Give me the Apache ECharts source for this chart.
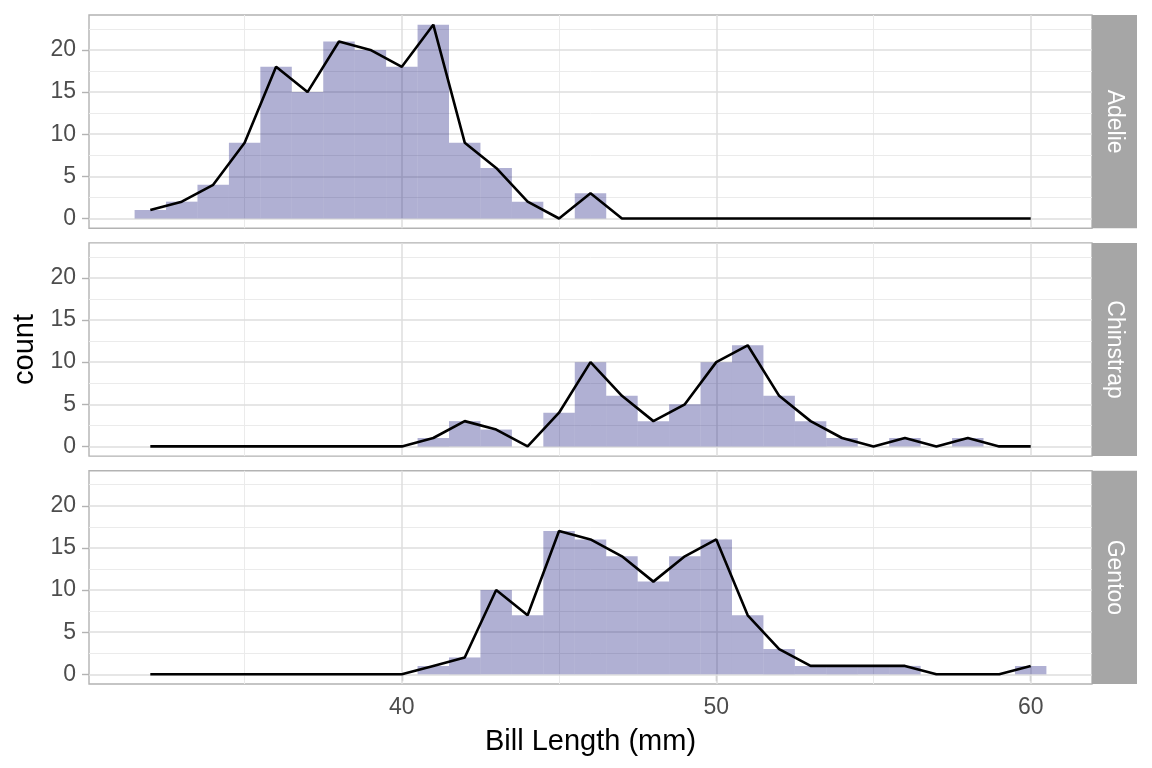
<!DOCTYPE html>
<html>
<head>
<meta charset="utf-8">
<script src="https://cdn.jsdelivr.net/npm/echarts@6/dist/echarts.min.js"></script>
<style>
  html, body { margin: 0; padding: 0; background: #fff; }
  #chart { width: 1152px; height: 768px; }
</style>
</head>
<body>
<div id="chart"></div>
<script>
// bin centres (bin width 1)
const bins = [32, 33, 34, 35, 36, 37, 38, 39, 40, 41, 42, 43, 44, 45, 46,
  47, 48, 49, 50, 51, 52, 53, 54, 55, 56, 57, 58, 59, 60]
const species = ['Adelie', 'Chinstrap', 'Gentoo']
const adelie = [1, 2, 4, 9, 18, 15, 21, 20, 18, 23, 9, 6, 2, 0, 3,
  0, 0, 0, 0, 0, 0, 0, 0, 0, 0, 0, 0, 0, 0]
const chinstrap = [0, 0, 0, 0, 0, 0, 0, 0, 0, 1, 3, 2, 0, 4, 10,
  6, 3, 5, 10, 12, 6, 3, 1, 0, 1, 0, 1, 0, 0]
const gentoo = [0, 0, 0, 0, 0, 0, 0, 0, 0, 1, 2, 10, 7, 17, 16,
  14, 11, 14, 16, 7, 3, 1, 1, 1, 1, 0, 0, 0, 1]
const counts = [adelie, chinstrap, gentoo]

const xLabels = [40, 50, 60]
const xMinor = [35, 45, 55]
const yLabels = [0, 5, 10, 15, 20]
const yMinor = [2.5, 7.5, 12.5, 17.5, 22.5]

const font = 'Liberation Sans, Arial, Helvetica, sans-serif'
const left = 89
const right = 60
const top0 = 15
const panelH = 213.2
const gap = 14.7

const chart = echarts.init(document.getElementById('chart'))

const grids = []
const xAxes = []
const yAxes = []
const series = []
const graphics = []

species.forEach((name, i) => {
  const top = top0 + i * (panelH + gap)
  const isLast = i === species.length - 1
  grids.push({
    left, right, top, height: panelH,
    show: true,
    backgroundColor: '#fff',
    borderColor: '#b3b3b3',
    borderWidth: 1.4
  })
  xAxes.push({
    type: 'value',
    gridIndex: i,
    min: 30.05,
    max: 61.95,
    axisLine: { show: false },
    splitLine: { show: false },
    axisTick: {
      show: isLast,
      customValues: xLabels,
      length: 7,
      lineStyle: { color: '#b3b3b3', width: 1.4 }
    },
    axisLabel: {
      show: isLast,
      customValues: xLabels,
      margin: 12,
      color: '#4d4d4d',
      fontSize: 23,
      fontFamily: font
    },
    name: isLast ? 'Bill Length (mm)' : '',
    nameLocation: 'middle',
    nameGap: 43,
    nameTextStyle: { color: '#000', fontSize: 29, fontFamily: font }
  })
  yAxes.push({
    type: 'value',
    gridIndex: i,
    min: -1.15,
    max: 24.15,
    axisLine: { show: false },
    splitLine: { show: false },
    axisTick: {
      show: true,
      customValues: yLabels,
      length: 7,
      lineStyle: { color: '#b3b3b3', width: 1.4 }
    },
    axisLabel: {
      customValues: yLabels,
      margin: 13,
      color: '#4d4d4d',
      fontSize: 23,
      fontFamily: font
    },
    name: i === 1 ? 'count' : '',
    nameLocation: 'middle',
    nameGap: 44,
    nameRotate: 90,
    nameTextStyle: { color: '#000', fontSize: 29, fontFamily: font }
  })

  const data = bins.map((b, k) => [b, counts[i][k]])

  // grid lines carrier
  series.push({
    type: 'line',
    xAxisIndex: i,
    yAxisIndex: i,
    data: [],
    silent: true,
    markLine: {
      z: 1,
      silent: true,
      symbol: 'none',
      label: { show: false },
      animation: false,
      data: [
        ...xMinor.map(v => ({ xAxis: v, lineStyle: { color: '#ebebeb', width: 1, type: 'solid' } })),
        ...yMinor.map(v => ({ yAxis: v, lineStyle: { color: '#ebebeb', width: 1, type: 'solid' } })),
        ...xLabels.map(v => ({ xAxis: v, lineStyle: { color: '#dedede', width: 1.5, type: 'solid' } })),
        ...yLabels.map(v => ({ yAxis: v, lineStyle: { color: '#dedede', width: 1.5, type: 'solid' } }))
      ]
    }
  })

  // histogram bars
  series.push({
    type: 'custom',
    xAxisIndex: i,
    yAxisIndex: i,
    z: 2,
    data,
    renderItem: (params, api) => {
      const x = api.value(0)
      const c = api.value(1)
      if (!c) return null
      const p0 = api.coord([x - 0.5, c])
      const p1 = api.coord([x + 0.5, 0])
      return {
        type: 'rect',
        shape: { x: p0[0], y: p0[1], width: p1[0] - p0[0], height: p1[1] - p0[1] },
        style: { fill: 'rgba(10,10,117,0.32)' }
      }
    }
  })

  // frequency polygon
  series.push({
    type: 'line',
    xAxisIndex: i,
    yAxisIndex: i,
    z: 3,
    data,
    showSymbol: false,
    symbol: 'none',
    lineStyle: { color: '#000', width: 2.6 }
  })

  // facet strip
  graphics.push({
    type: 'group',
    children: [
      {
        type: 'rect',
        shape: { x: 1152 - right, y: top, width: 45, height: panelH },
        style: { fill: '#a6a6a6' }
      },
      {
        type: 'text',
        x: 1152 - right + 22.5,
        y: top + panelH / 2,
        rotation: -Math.PI / 2,
        style: {
          text: name,
          fill: '#fff',
          fontSize: 23,
          fontFamily: font,
          align: 'center',
          verticalAlign: 'middle'
        }
      }
    ]
  })
})

chart.setOption({
  animation: false,
  grid: grids,
  xAxis: xAxes,
  yAxis: yAxes,
  series,
  graphic: graphics
})
</script>
</body>
</html>
